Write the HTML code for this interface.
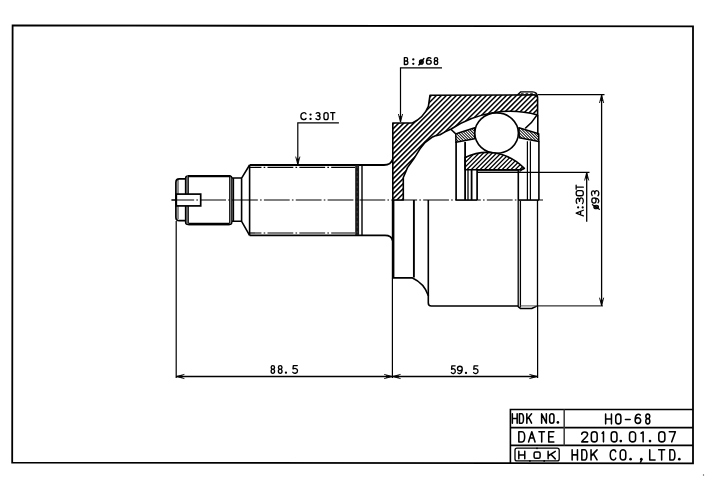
<!DOCTYPE html>
<html><head><meta charset="utf-8"><style>html,body{margin:0;padding:0;background:#fff;width:720px;height:479px;overflow:hidden}svg{display:block}</style></head>
<body><svg width="720" height="479" viewBox="0 0 720 479">
<rect width="720" height="479" fill="#fff"/>

<defs><clipPath id="c1"><path d="M392.8,200 L392.8,123 L412.4,123 A 31.91 31.91 0 0 0 428.4 106.3 L430,95.2 L534,94.9 Q537.6,94.9 537.6,98.5 L537.6,115 A 106.43 106.43 0 0 0 451.2 129 L445.1,131.9 L440,134.8 L436,135.6 L432.6,136.9 L425,142.5 L420,148.8 L413.8,158.8 L407.5,167.6 L403.3,177.5 L403.3,200 Z"/></clipPath><clipPath id="c2"><path d="M455.8,133.9 L459.2,132.7 L474.8,127.7 L474.6,138.8 L455.9,142.3 Z"/></clipPath><clipPath id="c3"><path d="M518.9,127.8 L538.7,133.8 L538.8,141.4 L519.3,137.7 Z"/></clipPath><clipPath id="c4"><path d="M465.1,157.5 A 51.07 51.07 0 0 1 524.3 168.4 L520,169.8 L465.1,169.8 Z"/></clipPath></defs>
<path d="M12.6,25.4 L693,26.4 L693,463.4 L12.2,462.6 Z" fill="none" stroke="#000" stroke-width="1.8"/>
<path d="M510.4,463 L510.4,409.5 L693,409.5 M510.4,427.6 L693,427.6 M510.4,445.4 L693,445.4" fill="none" stroke="#000" stroke-width="1.6"/>
<path d="M564.2,409.5 L564.2,445.4" fill="none" stroke="#3a3a3a" stroke-width="1.5"/>
<path transform="translate(512.34,413.84) scale(4.815,9.315)" d="M0,0 L0,1 M1,0 L1,1 M0,0.5 L1,0.5" fill="none" stroke="#000" stroke-width="1.55" vector-effect="non-scaling-stroke" stroke-linecap="round" stroke-linejoin="round"/><path transform="translate(519.44,413.84) scale(4.515,9.315)" d="M0,0 L0,1 L0.5,1 C1.03,1 1.03,0 0.5,0 Z" fill="none" stroke="#000" stroke-width="1.55" vector-effect="non-scaling-stroke" stroke-linecap="round" stroke-linejoin="round"/><path transform="translate(526.84,413.84) scale(4.715,9.315)" d="M0,0 L0,1 M1,0 L0,0.62 M0.38,0.38 L1,1" fill="none" stroke="#000" stroke-width="1.55" vector-effect="non-scaling-stroke" stroke-linecap="round" stroke-linejoin="round"/><path transform="translate(541.64,413.84) scale(4.715,9.315)" d="M0,1 L0,0 L1,1 L1,0" fill="none" stroke="#000" stroke-width="1.55" vector-effect="non-scaling-stroke" stroke-linecap="round" stroke-linejoin="round"/><path transform="translate(549.64,413.84) scale(4.315,9.315)" d="M0,0.27 C0,-0.09 1,-0.09 1,0.27 L1,0.73 C1,1.09 0,1.09 0,0.73 Z" fill="none" stroke="#000" stroke-width="1.55" vector-effect="non-scaling-stroke" stroke-linecap="round" stroke-linejoin="round"/><circle cx="557.90" cy="422.38" r="1.32" fill="#000"/>
<path transform="translate(518.84,431.74) scale(6.515,10.215)" d="M0,0 L0,1 L0.5,1 C1.03,1 1.03,0 0.5,0 Z" fill="none" stroke="#000" stroke-width="1.55" vector-effect="non-scaling-stroke" stroke-linecap="round" stroke-linejoin="round"/><path transform="translate(528.54,431.74) scale(6.515,10.215)" d="M0,1 L0.5,0 L1,1 M0.2,0.62 L0.8,0.62" fill="none" stroke="#000" stroke-width="1.55" vector-effect="non-scaling-stroke" stroke-linecap="round" stroke-linejoin="round"/><path transform="translate(538.94,431.74) scale(5.515,10.215)" d="M0,0 L1,0 M0.5,0 L0.5,1" fill="none" stroke="#000" stroke-width="1.55" vector-effect="non-scaling-stroke" stroke-linecap="round" stroke-linejoin="round"/><path transform="translate(548.74,431.74) scale(5.115,10.215)" d="M1,0 L0,0 L0,1 L1,1 M0,0.5 L0.85,0.5" fill="none" stroke="#000" stroke-width="1.55" vector-effect="non-scaling-stroke" stroke-linecap="round" stroke-linejoin="round"/>
<path transform="translate(605.64,414.14) scale(5.815,9.715)" d="M0,0 L0,1 M1,0 L1,1 M0,0.5 L1,0.5" fill="none" stroke="#000" stroke-width="1.55" vector-effect="non-scaling-stroke" stroke-linecap="round" stroke-linejoin="round"/><path transform="translate(615.74,414.14) scale(5.115,9.715)" d="M0,0.27 C0,-0.09 1,-0.09 1,0.27 L1,0.73 C1,1.09 0,1.09 0,0.73 Z" fill="none" stroke="#000" stroke-width="1.55" vector-effect="non-scaling-stroke" stroke-linecap="round" stroke-linejoin="round"/><path transform="translate(625.44,414.14) scale(4.715,9.715)" d="M0,0.55 L1,0.55" fill="none" stroke="#000" stroke-width="1.55" vector-effect="non-scaling-stroke" stroke-linecap="round" stroke-linejoin="round"/><path transform="translate(635.14,414.14) scale(5.515,9.715)" d="M0.92,0.1 C0.72,-0.04 0.12,-0.06 0.02,0.42 L0,0.66 M0,0.66 C0,0.28 1,0.28 1,0.66 C1,1.05 0,1.05 0,0.66 Z" fill="none" stroke="#000" stroke-width="1.55" vector-effect="non-scaling-stroke" stroke-linecap="round" stroke-linejoin="round"/><path transform="translate(645.24,414.14) scale(5.115,9.715)" d="M0.5,0.46 C-0.03,0.46 0.02,0 0.5,0 C0.98,0 1.03,0.46 0.5,0.46 C-0.05,0.46 0,1 0.5,1 C1,1 1.05,0.46 0.5,0.46 Z" fill="none" stroke="#000" stroke-width="1.55" vector-effect="non-scaling-stroke" stroke-linecap="round" stroke-linejoin="round"/>
<path transform="translate(581.59,431.84) scale(6.165,10.015)" d="M0.02,0.24 C0.05,-0.06 0.98,-0.08 0.98,0.27 C0.98,0.5 0.45,0.62 0.02,1 L1,1" fill="none" stroke="#000" stroke-width="1.55" vector-effect="non-scaling-stroke" stroke-linecap="round" stroke-linejoin="round"/><path transform="translate(591.34,431.84) scale(5.815,10.015)" d="M0,0.27 C0,-0.09 1,-0.09 1,0.27 L1,0.73 C1,1.09 0,1.09 0,0.73 Z" fill="none" stroke="#000" stroke-width="1.55" vector-effect="non-scaling-stroke" stroke-linecap="round" stroke-linejoin="round"/><path transform="translate(602.04,431.84) scale(1.915,10.015)" d="M0.05,0.14 L0.75,0 L0.75,1" fill="none" stroke="#000" stroke-width="1.55" vector-effect="non-scaling-stroke" stroke-linecap="round" stroke-linejoin="round"/><path transform="translate(611.24,431.84) scale(5.715,10.015)" d="M0,0.27 C0,-0.09 1,-0.09 1,0.27 L1,0.73 C1,1.09 0,1.09 0,0.73 Z" fill="none" stroke="#000" stroke-width="1.55" vector-effect="non-scaling-stroke" stroke-linecap="round" stroke-linejoin="round"/><circle cx="620.80" cy="441.08" r="1.32" fill="#000"/><path transform="translate(629.54,431.84) scale(6.015,10.015)" d="M0,0.27 C0,-0.09 1,-0.09 1,0.27 L1,0.73 C1,1.09 0,1.09 0,0.73 Z" fill="none" stroke="#000" stroke-width="1.55" vector-effect="non-scaling-stroke" stroke-linecap="round" stroke-linejoin="round"/><path transform="translate(640.94,431.84) scale(2.915,10.015)" d="M0.05,0.14 L0.75,0 L0.75,1" fill="none" stroke="#000" stroke-width="1.55" vector-effect="non-scaling-stroke" stroke-linecap="round" stroke-linejoin="round"/><circle cx="650.00" cy="441.08" r="1.32" fill="#000"/><path transform="translate(658.79,431.84) scale(6.065,10.015)" d="M0,0.27 C0,-0.09 1,-0.09 1,0.27 L1,0.73 C1,1.09 0,1.09 0,0.73 Z" fill="none" stroke="#000" stroke-width="1.55" vector-effect="non-scaling-stroke" stroke-linecap="round" stroke-linejoin="round"/><path transform="translate(669.29,431.84) scale(6.065,10.015)" d="M0,0 L1,0 L0.4,1" fill="none" stroke="#000" stroke-width="1.55" vector-effect="non-scaling-stroke" stroke-linecap="round" stroke-linejoin="round"/>
<path transform="translate(572.14,449.84) scale(5.315,10.115)" d="M0,0 L0,1 M1,0 L1,1 M0,0.5 L1,0.5" fill="none" stroke="#000" stroke-width="1.55" vector-effect="non-scaling-stroke" stroke-linecap="round" stroke-linejoin="round"/><path transform="translate(581.84,449.84) scale(5.615,10.115)" d="M0,0 L0,1 L0.5,1 C1.03,1 1.03,0 0.5,0 Z" fill="none" stroke="#000" stroke-width="1.55" vector-effect="non-scaling-stroke" stroke-linecap="round" stroke-linejoin="round"/><path transform="translate(591.04,449.84) scale(6.015,10.115)" d="M0,0 L0,1 M1,0 L0,0.62 M0.38,0.38 L1,1" fill="none" stroke="#000" stroke-width="1.55" vector-effect="non-scaling-stroke" stroke-linecap="round" stroke-linejoin="round"/><path transform="translate(610.24,449.84) scale(5.515,10.115)" d="M1,0.18 C0.85,-0.08 0,-0.1 0,0.5 C0,1.1 0.85,1.08 1,0.82" fill="none" stroke="#000" stroke-width="1.55" vector-effect="non-scaling-stroke" stroke-linecap="round" stroke-linejoin="round"/><path transform="translate(620.24,449.84) scale(5.515,10.115)" d="M0,0.27 C0,-0.09 1,-0.09 1,0.27 L1,0.73 C1,1.09 0,1.09 0,0.73 Z" fill="none" stroke="#000" stroke-width="1.55" vector-effect="non-scaling-stroke" stroke-linecap="round" stroke-linejoin="round"/><circle cx="630.55" cy="459.18" r="1.32" fill="#000"/><circle cx="641.30" cy="459.18" r="1.32" fill="#000"/><path d="M641.90,459.18 L640.30,462.70" stroke="#000" stroke-width="1.55" fill="none"/><path transform="translate(649.74,449.84) scale(5.315,10.115)" d="M0,0 L0,1 L1,1" fill="none" stroke="#000" stroke-width="1.55" vector-effect="non-scaling-stroke" stroke-linecap="round" stroke-linejoin="round"/><path transform="translate(658.64,449.84) scale(6.015,10.115)" d="M0,0 L1,0 M0.5,0 L0.5,1" fill="none" stroke="#000" stroke-width="1.55" vector-effect="non-scaling-stroke" stroke-linecap="round" stroke-linejoin="round"/><path transform="translate(669.84,449.84) scale(5.615,10.115)" d="M0,0 L0,1 L0.5,1 C1.03,1 1.03,0 0.5,0 Z" fill="none" stroke="#000" stroke-width="1.55" vector-effect="non-scaling-stroke" stroke-linecap="round" stroke-linejoin="round"/><circle cx="679.30" cy="459.18" r="1.32" fill="#000"/>
<path transform="translate(518.82,451.32) scale(5.950,7.550)" d="M0,0 L0,1 M1,0 L1,1 M0,0.5 L1,0.5" fill="none" stroke="#000" stroke-width="1.5" vector-effect="non-scaling-stroke" stroke-linecap="round" stroke-linejoin="round"/><path transform="translate(548.12,451.32) scale(7.150,7.550)" d="M0,0 L0,1 M1,0 L0,0.62 M0.38,0.38 L1,1" fill="none" stroke="#000" stroke-width="1.5" vector-effect="non-scaling-stroke" stroke-linecap="round" stroke-linejoin="round"/>
<rect x="534.1" y="451.9" width="6.0" height="6.4" rx="1.6" fill="none" stroke="#000" stroke-width="1.5"/>
<rect x="515.0" y="448.2" width="44.2" height="12.7" rx="2" fill="none" stroke="#000" stroke-width="1.3"/>
<circle cx="537" cy="448.3" r="0.9" fill="#000"/><circle cx="529.9" cy="460.9" r="0.9" fill="#000"/><circle cx="544.2" cy="460.9" r="0.9" fill="#000"/>
<line x1="171.5" y1="200" x2="543" y2="200" stroke="#000" stroke-width="1.15" stroke-dasharray="25.8 2.2 1.6 2.25" stroke-dashoffset="3.15"/>
<g clip-path="url(#c1)"><rect x="388" y="88" width="154" height="116" fill="#fff"/><path d="M378.90,88.00 L262.90,204.00 M383.90,88.00 L267.90,204.00 M388.90,88.00 L272.90,204.00 M393.90,88.00 L277.90,204.00 M398.90,88.00 L282.90,204.00 M403.90,88.00 L287.90,204.00 M408.90,88.00 L292.90,204.00 M413.90,88.00 L297.90,204.00 M418.90,88.00 L302.90,204.00 M423.90,88.00 L307.90,204.00 M428.90,88.00 L312.90,204.00 M433.90,88.00 L317.90,204.00 M438.90,88.00 L322.90,204.00 M443.90,88.00 L327.90,204.00 M448.90,88.00 L332.90,204.00 M453.90,88.00 L337.90,204.00 M458.90,88.00 L342.90,204.00 M463.90,88.00 L347.90,204.00 M468.90,88.00 L352.90,204.00 M473.90,88.00 L357.90,204.00 M478.90,88.00 L362.90,204.00 M483.90,88.00 L367.90,204.00 M488.90,88.00 L372.90,204.00 M493.90,88.00 L377.90,204.00 M498.90,88.00 L382.90,204.00 M503.90,88.00 L387.90,204.00 M508.90,88.00 L392.90,204.00 M513.90,88.00 L397.90,204.00 M518.90,88.00 L402.90,204.00 M523.90,88.00 L407.90,204.00 M528.90,88.00 L412.90,204.00 M533.90,88.00 L417.90,204.00 M538.90,88.00 L422.90,204.00 M543.90,88.00 L427.90,204.00 M548.90,88.00 L432.90,204.00 M553.90,88.00 L437.90,204.00 M558.90,88.00 L442.90,204.00 M563.90,88.00 L447.90,204.00 M568.90,88.00 L452.90,204.00 M573.90,88.00 L457.90,204.00 M578.90,88.00 L462.90,204.00 M583.90,88.00 L467.90,204.00 M588.90,88.00 L472.90,204.00 M593.90,88.00 L477.90,204.00 M598.90,88.00 L482.90,204.00 M603.90,88.00 L487.90,204.00 M608.90,88.00 L492.90,204.00 M613.90,88.00 L497.90,204.00 M618.90,88.00 L502.90,204.00 M623.90,88.00 L507.90,204.00 M628.90,88.00 L512.90,204.00 M633.90,88.00 L517.90,204.00 M638.90,88.00 L522.90,204.00 M643.90,88.00 L527.90,204.00 M648.90,88.00 L532.90,204.00 M653.90,88.00 L537.90,204.00 M658.90,88.00 L542.90,204.00" stroke="#000" stroke-width="1.45" fill="none"/></g>
<path d="M392.8,200 L392.8,123 L412.4,123 A 31.91 31.91 0 0 0 428.4 106.3 L430,95.2 L534,94.9 Q537.6,94.9 537.6,98.5 L537.6,115 A 106.43 106.43 0 0 0 451.2 129 L445.1,131.9 L440,134.8 L436,135.6 L432.6,136.9 L425,142.5 L420,148.8 L413.8,158.8 L407.5,167.6 L403.3,177.5 L403.3,200 Z" fill="none" stroke="#000" stroke-width="1.6" stroke-linejoin="round"/>
<path d="M517.4,95 L520.6,91.9 L532.4,91.9 Q537.4,91.9 537.6,97.5" fill="none" stroke="#000" stroke-width="1.4"/>
<line x1="521" y1="93.4" x2="535.5" y2="93.4" stroke="#000" stroke-width="0.8" stroke-dasharray="2.6 2"/>
<g clip-path="url(#c2)"><rect x="452" y="124" width="26" height="22" fill="#000"/><path d="M483.10,124.00 L505.10,146.00 M480.20,124.00 L502.20,146.00 M477.30,124.00 L499.30,146.00 M474.40,124.00 L496.40,146.00 M471.50,124.00 L493.50,146.00 M468.60,124.00 L490.60,146.00 M465.70,124.00 L487.70,146.00 M462.80,124.00 L484.80,146.00 M459.90,124.00 L481.90,146.00 M457.00,124.00 L479.00,146.00 M454.10,124.00 L476.10,146.00 M451.20,124.00 L473.20,146.00 M448.30,124.00 L470.30,146.00 M445.40,124.00 L467.40,146.00 M442.50,124.00 L464.50,146.00 M439.60,124.00 L461.60,146.00 M436.70,124.00 L458.70,146.00 M433.80,124.00 L455.80,146.00 M430.90,124.00 L452.90,146.00 M428.00,124.00 L450.00,146.00" stroke="#fff" stroke-width="1.15" fill="none"/></g>
<path d="M455.8,133.9 L459.2,132.7 L474.8,127.7 L474.6,138.8 L455.9,142.3 Z" fill="none" stroke="#000" stroke-width="1.5" stroke-linejoin="round"/>
<path d="M450.8,129.3 L455.8,133.9" fill="none" stroke="#000" stroke-width="1.5"/>
<g clip-path="url(#c3)"><rect x="515" y="124" width="27" height="22" fill="#000"/><path d="M546.90,124.00 L568.90,146.00 M544.00,124.00 L566.00,146.00 M541.10,124.00 L563.10,146.00 M538.20,124.00 L560.20,146.00 M535.30,124.00 L557.30,146.00 M532.40,124.00 L554.40,146.00 M529.50,124.00 L551.50,146.00 M526.60,124.00 L548.60,146.00 M523.70,124.00 L545.70,146.00 M520.80,124.00 L542.80,146.00 M517.90,124.00 L539.90,146.00 M515.00,124.00 L537.00,146.00 M512.10,124.00 L534.10,146.00 M509.20,124.00 L531.20,146.00 M506.30,124.00 L528.30,146.00 M503.40,124.00 L525.40,146.00 M500.50,124.00 L522.50,146.00 M497.60,124.00 L519.60,146.00 M494.70,124.00 L516.70,146.00 M491.80,124.00 L513.80,146.00" stroke="#fff" stroke-width="1.15" fill="none"/></g>
<path d="M518.9,127.8 L538.7,133.8 L538.8,141.4 L519.3,137.7 Z" fill="none" stroke="#000" stroke-width="1.5" stroke-linejoin="round"/>
<path d="M525.2,128.3 A 46.93 46.93 0 0 0 536.9 115.2" fill="none" stroke="#000" stroke-width="1.5"/>
<ellipse cx="496.6" cy="133.1" rx="21.8" ry="20.2" fill="#fff" stroke="#000" stroke-width="1.6"/>
<g clip-path="url(#c4)"><rect x="462" y="148" width="66" height="26" fill="#fff"/><path d="M453.30,148.00 L427.30,174.00 M457.70,148.00 L431.70,174.00 M462.10,148.00 L436.10,174.00 M466.50,148.00 L440.50,174.00 M470.90,148.00 L444.90,174.00 M475.30,148.00 L449.30,174.00 M479.70,148.00 L453.70,174.00 M484.10,148.00 L458.10,174.00 M488.50,148.00 L462.50,174.00 M492.90,148.00 L466.90,174.00 M497.30,148.00 L471.30,174.00 M501.70,148.00 L475.70,174.00 M506.10,148.00 L480.10,174.00 M510.50,148.00 L484.50,174.00 M514.90,148.00 L488.90,174.00 M519.30,148.00 L493.30,174.00 M523.70,148.00 L497.70,174.00 M528.10,148.00 L502.10,174.00 M532.50,148.00 L506.50,174.00 M536.90,148.00 L510.90,174.00 M541.30,148.00 L515.30,174.00 M545.70,148.00 L519.70,174.00 M550.10,148.00 L524.10,174.00 M554.50,148.00 L528.50,174.00" stroke="#000" stroke-width="1.3" fill="none"/></g>
<path d="M465.1,157.5 A 51.07 51.07 0 0 1 524.3 168.4 L520,169.8 L465.1,169.8 Z" fill="none" stroke="#000" stroke-width="1.6" stroke-linejoin="round"/>
<line x1="456.1" y1="141.9" x2="456.1" y2="200" stroke="#000" stroke-width="1.7"/>
<line x1="465.1" y1="141.9" x2="465.1" y2="200" stroke="#000" stroke-width="1.8"/>
<line x1="468.0" y1="169.8" x2="468.0" y2="200" stroke="#000" stroke-width="1.3"/>
<line x1="471.6" y1="169.8" x2="471.6" y2="200" stroke="#000" stroke-width="1.8"/>
<line x1="477.1" y1="169.8" x2="477.1" y2="200" stroke="#000" stroke-width="1.7"/>
<line x1="518.3" y1="169.8" x2="518.3" y2="200" stroke="#000" stroke-width="1.6"/>
<line x1="527.4" y1="141.2" x2="527.4" y2="200" stroke="#000" stroke-width="1.2"/>
<line x1="530.4" y1="141.2" x2="530.4" y2="200" stroke="#000" stroke-width="1.2"/>
<line x1="538.9" y1="141.2" x2="538.9" y2="200" stroke="#000" stroke-width="1.6"/>
<line x1="537.8" y1="115" x2="537.8" y2="135" stroke="#000" stroke-width="1.6"/>
<path d="M455.8,200.1 L477.1,200.1 M518.3,200.1 L539,200.1" stroke="#000" stroke-width="1.3" fill="none"/>
<line x1="477.2" y1="170.7" x2="518.3" y2="170.7" stroke="#000" stroke-width="1.0"/>
<line x1="477.2" y1="172.3" x2="589.5" y2="172.3" stroke="#000" stroke-width="1.3"/>
<path d="M524.3,168.3 L519.5,171.6" stroke="#000" stroke-width="1.2" fill="none"/>
<path d="M392.6,200 L392.6,277.9 L412.5,277.9 A 29.75 29.75 0 0 1 428.3 295.5 L428.3,303 Q428.3,306 431.3,306 L518,306 " fill="none" stroke="#000" stroke-width="1.6" stroke-linejoin="round"/>
<path d="M393.2,200 L393.2,277" fill="none" stroke="#000" stroke-width="2.4"/>
<path d="M518.2,200 L518.2,307 M520.4,201 L520.4,307.5 " fill="none" stroke="#000" stroke-width="1.3"/>
<path d="M518.2,306.6 L520.4,308.5 L531.7,308.5 L536.8,306.1" fill="none" stroke="#000" stroke-width="1.6" stroke-linejoin="round"/>
<line x1="520.4" y1="305.9" x2="537.6" y2="305.9" stroke="#555" stroke-width="1.0"/>
<line x1="537.5" y1="200" x2="537.5" y2="306" stroke="#000" stroke-width="1.3"/>
<line x1="413.9" y1="200" x2="413.9" y2="277.5" stroke="#000" stroke-width="1.9"/>
<line x1="428.3" y1="200" x2="428.3" y2="296" stroke="#000" stroke-width="1.6"/>
<path d="M249.6,165 L384,165 Q391,165 392.6,159.5" fill="none" stroke="#000" stroke-width="1.85"/>
<path d="M249.6,235.3 L385,235.3 Q391.5,235.3 392.6,240.5" fill="none" stroke="#000" stroke-width="1.85"/>
<line x1="249.6" y1="165" x2="249.6" y2="235.3" stroke="#000" stroke-width="1.6"/>
<line x1="250" y1="167.4" x2="355" y2="167.4" stroke="#000" stroke-width="1.2" stroke-dasharray="25.8 2.2 1.6 2.25" stroke-dashoffset="14.35"/>
<line x1="250" y1="233" x2="355" y2="233" stroke="#000" stroke-width="1.2" stroke-dasharray="25.8 2.2 1.6 2.25" stroke-dashoffset="14.35"/>
<rect x="355.2" y="165" width="3.9" height="70" fill="#1a1a1a"/>
<line x1="357.2" y1="166" x2="357.2" y2="234" stroke="#555" stroke-width="0.6" stroke-dasharray="2 3"/>
<line x1="362" y1="165" x2="362" y2="235.3" stroke="#000" stroke-width="1.4"/>
<path d="M249.6,165 L241.6,178.1 L241.6,221.3 L249.6,235.3" fill="none" stroke="#000" stroke-width="1.6"/>
<path d="M231.8,178.1 L241.6,178.1 M231.8,221.3 L241.6,221.3 M233.4,178.1 L233.4,221.3" fill="none" stroke="#000" stroke-width="1.5"/>
<rect x="185.4" y="177" width="3.0" height="46.6" fill="#6a6a6a"/>
<rect x="229.4" y="177" width="2.4" height="46.6" fill="#909090"/>
<path d="M185.5,222.2 L185.5,178.3 Q185.5,175.9 188,175.9 L229.6,175.9 Q231.9,175.9 231.9,178.3 L231.9,221.9 Q231.9,224.5 229.3,224.5 L188.2,224.5 Q185.5,224.5 185.5,222.2" fill="none" stroke="#000" stroke-width="1.3"/>
<path d="M188,176.1 L230.5,176.1 M188.5,224 L229.5,224" fill="none" stroke="#000" stroke-width="2.3"/>
<path d="M188.4,177 L188.4,223.4 M229.6,177 L229.6,223.4" fill="none" stroke="#000" stroke-width="0.9"/>
<path d="M185.5,178.9 L179.4,178.9 Q175.9,178.9 175.9,182.4 L175.9,217.2 Q175.9,220.7 179.4,220.7 L185.5,220.7" fill="none" stroke="#000" stroke-width="1.7"/>
<line x1="178" y1="180" x2="178" y2="219" stroke="#000" stroke-width="0.9"/>
<rect x="176.3" y="194.1" width="24.4" height="11.8" fill="#fff" stroke="#000" stroke-width="1.7"/>
<line x1="171.5" y1="200" x2="201" y2="200" stroke="#000" stroke-width="1.15" stroke-dasharray="25.8 2.2 1.6 2.25" stroke-dashoffset="3.15"/>
<line x1="176.2" y1="221" x2="176.2" y2="378" stroke="#000" stroke-width="1.2"/>
<line x1="392.4" y1="278" x2="392.4" y2="378" stroke="#000" stroke-width="1.2"/>
<line x1="537.6" y1="306" x2="537.6" y2="378" stroke="#000" stroke-width="1.25"/>
<line x1="176.2" y1="376.5" x2="537.6" y2="376.5" stroke="#000" stroke-width="1.3"/>
<path d="M176.4,376.5 L184.4,374.4 M176.4,376.5 L184.4,378.6" stroke="#000" stroke-width="0.9" fill="none"/><path d="M176.4,376.5 L182.4,375.1 L182.4,377.9 Z" fill="#000"/>
<path d="M392.2,376.5 L384.2,374.4 M392.2,376.5 L384.2,378.6" stroke="#000" stroke-width="0.9" fill="none"/><path d="M392.2,376.5 L386.2,375.1 L386.2,377.9 Z" fill="#000"/>
<path d="M392.6,376.5 L400.6,374.4 M392.6,376.5 L400.6,378.6" stroke="#000" stroke-width="0.9" fill="none"/><path d="M392.6,376.5 L398.6,375.1 L398.6,377.9 Z" fill="#000"/>
<path d="M537.4,376.5 L529.4,374.4 M537.4,376.5 L529.4,378.6" stroke="#000" stroke-width="0.9" fill="none"/><path d="M537.4,376.5 L531.4,375.1 L531.4,377.9 Z" fill="#000"/>
<path transform="translate(270.67,365.57) scale(4.355,7.755)" d="M0.5,0.46 C-0.03,0.46 0.02,0 0.5,0 C0.98,0 1.03,0.46 0.5,0.46 C-0.05,0.46 0,1 0.5,1 C1,1 1.05,0.46 0.5,0.46 Z" fill="none" stroke="#000" stroke-width="1.35" vector-effect="non-scaling-stroke" stroke-linecap="round" stroke-linejoin="round"/><path transform="translate(277.87,365.57) scale(4.655,7.755)" d="M0.5,0.46 C-0.03,0.46 0.02,0 0.5,0 C0.98,0 1.03,0.46 0.5,0.46 C-0.05,0.46 0,1 0.5,1 C1,1 1.05,0.46 0.5,0.46 Z" fill="none" stroke="#000" stroke-width="1.35" vector-effect="non-scaling-stroke" stroke-linecap="round" stroke-linejoin="round"/><circle cx="285.95" cy="372.65" r="1.15" fill="#000"/><path transform="translate(292.77,365.57) scale(4.755,7.755)" d="M0.95,0 L0.12,0 L0.05,0.43 C0.35,0.33 1,0.32 1,0.68 C1,1.05 0.2,1.07 0,0.86" fill="none" stroke="#000" stroke-width="1.35" vector-effect="non-scaling-stroke" stroke-linecap="round" stroke-linejoin="round"/>
<path transform="translate(451.37,365.87) scale(3.955,7.755)" d="M0.95,0 L0.12,0 L0.05,0.43 C0.35,0.33 1,0.32 1,0.68 C1,1.05 0.2,1.07 0,0.86" fill="none" stroke="#000" stroke-width="1.35" vector-effect="non-scaling-stroke" stroke-linecap="round" stroke-linejoin="round"/><path transform="translate(457.47,365.87) scale(4.755,7.755)" d="M1,0.34 C1,0.72 0,0.72 0,0.34 C0,-0.05 1,-0.05 1,0.34 Z M1,0.34 L0.98,0.58 C0.88,1.06 0.28,1.06 0.08,0.9" fill="none" stroke="#000" stroke-width="1.35" vector-effect="non-scaling-stroke" stroke-linecap="round" stroke-linejoin="round"/><circle cx="466.00" cy="372.95" r="1.15" fill="#000"/><path transform="translate(473.57,365.87) scale(4.455,7.755)" d="M0.95,0 L0.12,0 L0.05,0.43 C0.35,0.33 1,0.32 1,0.68 C1,1.05 0.2,1.07 0,0.86" fill="none" stroke="#000" stroke-width="1.35" vector-effect="non-scaling-stroke" stroke-linecap="round" stroke-linejoin="round"/>
<line x1="537.8" y1="94.7" x2="604.5" y2="94.7" stroke="#000" stroke-width="1.2"/>
<line x1="537.8" y1="305.9" x2="603" y2="305.9" stroke="#000" stroke-width="1.0"/>
<line x1="601.6" y1="95" x2="601.6" y2="305.5" stroke="#000" stroke-width="1.3"/>
<path d="M601.6,95 L599.5,103 M601.6,95 L603.7,103" stroke="#000" stroke-width="0.9" fill="none"/><path d="M601.6,95 L600.2,101 L603.0,101 Z" fill="#000"/>
<path d="M601.6,305.7 L599.5,297.7 M601.6,305.7 L603.7,297.7" stroke="#000" stroke-width="0.9" fill="none"/><path d="M601.6,305.7 L600.2,299.7 L603.0,299.7 Z" fill="#000"/>
<line x1="586.7" y1="172.5" x2="586.7" y2="221.7" stroke="#000" stroke-width="1.3"/>
<path d="M586.7,172.5 L584.6,180.5 M586.7,172.5 L588.8000000000001,180.5" stroke="#000" stroke-width="0.9" fill="none"/><path d="M586.7,172.5 L585.3000000000001,178.5 L588.1,178.5 Z" fill="#000"/>
<g transform="translate(575.7,216.4) rotate(-90)"><path transform="translate(0.45,0.45) scale(5.690,7.190)" d="M0,1 L0.5,0 L1,1 M0.2,0.62 L0.8,0.62" fill="none" stroke="#000" stroke-width="1.3" vector-effect="non-scaling-stroke" stroke-linecap="round" stroke-linejoin="round"/><circle cx="8.95" cy="2.43" r="1.10" fill="#000"/><circle cx="8.95" cy="6.99" r="1.10" fill="#000"/><path transform="translate(12.86,0.45) scale(5.590,7.190)" d="M0.05,0.1 C0.3,-0.05 0.95,-0.04 0.95,0.24 C0.95,0.42 0.7,0.46 0.38,0.46 C0.7,0.46 1,0.52 1,0.72 C1,1.05 0.3,1.06 0,0.88" fill="none" stroke="#000" stroke-width="1.3" vector-effect="non-scaling-stroke" stroke-linecap="round" stroke-linejoin="round"/><path transform="translate(20.65,0.45) scale(5.190,7.190)" d="M0,0.27 C0,-0.09 1,-0.09 1,0.27 L1,0.73 C1,1.09 0,1.09 0,0.73 Z" fill="none" stroke="#000" stroke-width="1.3" vector-effect="non-scaling-stroke" stroke-linecap="round" stroke-linejoin="round"/><path transform="translate(27.25,0.45) scale(3.890,7.190)" d="M0,0 L1,0 M0.5,0 L0.5,1" fill="none" stroke="#000" stroke-width="1.3" vector-effect="non-scaling-stroke" stroke-linecap="round" stroke-linejoin="round"/></g>
<g transform="translate(591.0,209.4) rotate(-90)"><ellipse cx="2.40" cy="5.15" rx="1.73" ry="2.32" fill="#333" stroke="#000" stroke-width="1.1700000000000002"/><path d="M0.10,8.30 L4.70,1.49" stroke="#000" stroke-width="1.3" fill="none" stroke-linecap="round"/><path transform="translate(6.25,0.45) scale(5.190,7.390)" d="M1,0.34 C1,0.72 0,0.72 0,0.34 C0,-0.05 1,-0.05 1,0.34 Z M1,0.34 L0.98,0.58 C0.88,1.06 0.28,1.06 0.08,0.9" fill="none" stroke="#000" stroke-width="1.3" vector-effect="non-scaling-stroke" stroke-linecap="round" stroke-linejoin="round"/><path transform="translate(13.65,0.45) scale(5.190,7.390)" d="M0.05,0.1 C0.3,-0.05 0.95,-0.04 0.95,0.24 C0.95,0.42 0.7,0.46 0.38,0.46 C0.7,0.46 1,0.52 1,0.72 C1,1.05 0.3,1.06 0,0.88" fill="none" stroke="#000" stroke-width="1.3" vector-effect="non-scaling-stroke" stroke-linecap="round" stroke-linejoin="round"/></g>
<path transform="translate(300.87,112.67) scale(5.155,6.955)" d="M1,0.18 C0.85,-0.08 0,-0.1 0,0.5 C0,1.1 0.85,1.08 1,0.82" fill="none" stroke="#000" stroke-width="1.35" vector-effect="non-scaling-stroke" stroke-linecap="round" stroke-linejoin="round"/><circle cx="310.55" cy="114.57" r="1.15" fill="#000"/><circle cx="310.55" cy="118.95" r="1.15" fill="#000"/><path transform="translate(315.97,112.67) scale(4.155,6.955)" d="M0.05,0.1 C0.3,-0.05 0.95,-0.04 0.95,0.24 C0.95,0.42 0.7,0.46 0.38,0.46 C0.7,0.46 1,0.52 1,0.72 C1,1.05 0.3,1.06 0,0.88" fill="none" stroke="#000" stroke-width="1.35" vector-effect="non-scaling-stroke" stroke-linecap="round" stroke-linejoin="round"/><path transform="translate(323.97,112.67) scale(4.155,6.955)" d="M0,0.27 C0,-0.09 1,-0.09 1,0.27 L1,0.73 C1,1.09 0,1.09 0,0.73 Z" fill="none" stroke="#000" stroke-width="1.35" vector-effect="non-scaling-stroke" stroke-linecap="round" stroke-linejoin="round"/><path transform="translate(330.67,112.67) scale(4.155,6.955)" d="M0,0 L1,0 M0.5,0 L0.5,1" fill="none" stroke="#000" stroke-width="1.35" vector-effect="non-scaling-stroke" stroke-linecap="round" stroke-linejoin="round"/>
<path transform="translate(404.37,57.57) scale(3.855,6.955)" d="M0,0 L0,1 L0.55,1 C1.05,1 1.05,0.5 0.55,0.5 L0,0.5 M0,0 L0.5,0 C0.95,0 0.95,0.5 0.5,0.5" fill="none" stroke="#000" stroke-width="1.35" vector-effect="non-scaling-stroke" stroke-linecap="round" stroke-linejoin="round"/><circle cx="413.30" cy="59.47" r="1.15" fill="#000"/><circle cx="413.30" cy="63.85" r="1.15" fill="#000"/><ellipse cx="421.35" cy="62.00" rx="1.91" ry="2.21" fill="#333" stroke="#000" stroke-width="1.215"/><path d="M418.80,65.00 L423.90,58.52" stroke="#000" stroke-width="1.35" fill="none" stroke-linecap="round"/><path transform="translate(426.47,57.57) scale(4.755,6.955)" d="M0.92,0.1 C0.72,-0.04 0.12,-0.06 0.02,0.42 L0,0.66 M0,0.66 C0,0.28 1,0.28 1,0.66 C1,1.05 0,1.05 0,0.66 Z" fill="none" stroke="#000" stroke-width="1.35" vector-effect="non-scaling-stroke" stroke-linecap="round" stroke-linejoin="round"/><path transform="translate(433.77,57.57) scale(4.455,6.955)" d="M0.5,0.46 C-0.03,0.46 0.02,0 0.5,0 C0.98,0 1.03,0.46 0.5,0.46 C-0.05,0.46 0,1 0.5,1 C1,1 1.05,0.46 0.5,0.46 Z" fill="none" stroke="#000" stroke-width="1.35" vector-effect="non-scaling-stroke" stroke-linecap="round" stroke-linejoin="round"/>
<path d="M338.9,122.9 L297.8,122.9 L297.8,165" fill="none" stroke="#000" stroke-width="1.2"/>
<path d="M297.8,164.6 L295.7,156.6 M297.8,164.6 L299.90000000000003,156.6" stroke="#000" stroke-width="0.9" fill="none"/><path d="M297.8,164.6 L296.40000000000003,158.6 L299.2,158.6 Z" fill="#000"/>
<path d="M442,67.8 L400.5,67.8 L400.5,122" fill="none" stroke="#000" stroke-width="1.2"/>
<path d="M400.5,122 L398.4,114 M400.5,122 L402.6,114" stroke="#000" stroke-width="0.9" fill="none"/><path d="M400.5,122 L399.1,116 L401.9,116 Z" fill="#000"/>
<circle cx="703.5" cy="475" r="0.7" fill="#555"/>
</svg></body></html>
